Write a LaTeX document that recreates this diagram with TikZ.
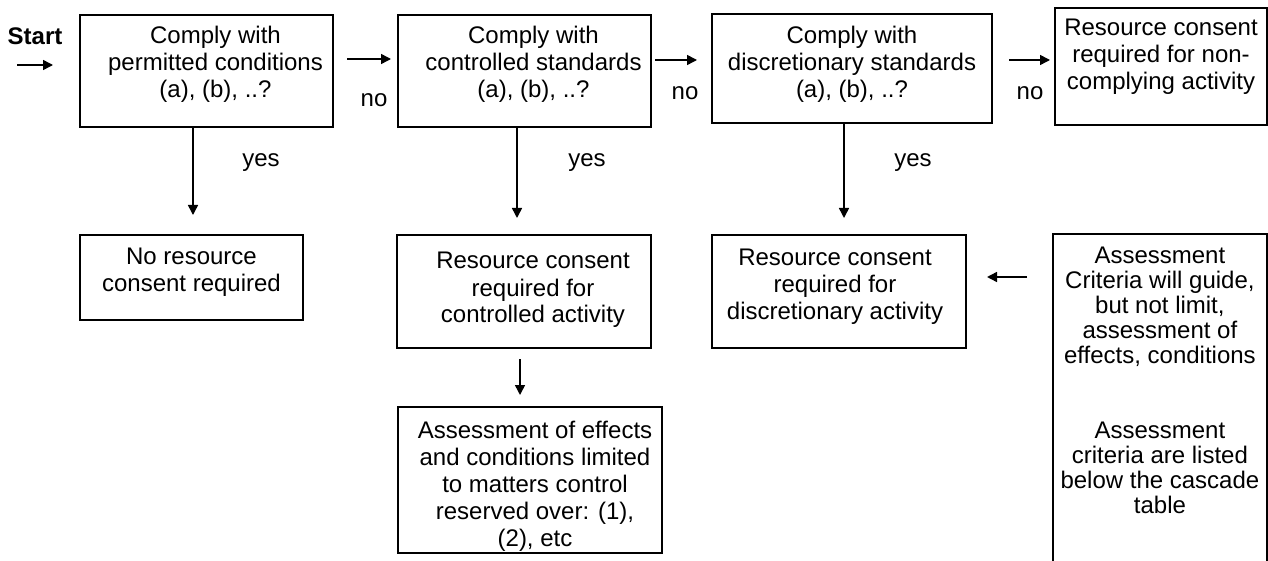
\documentclass[tikz,border=0pt]{standalone}
\usepackage{fontspec}
\setmainfont{Liberation Sans}
\usetikzlibrary{arrows.meta}
\newcommand{\boxtxt}[6]{\parbox[t][#2][t]{#1}{\centering\leftskip=#4 plus 1fil\rightskip=#5 plus 1fil\rule{0pt}{#3}#6}}
\begin{document}
\begin{tikzpicture}[x=0.5pt,y=-0.5pt, font=\fontsize{12}{13.5}\selectfont,
  bx/.style={draw, line width=1pt, inner sep=0pt, anchor=north west},
  arr/.style={line width=0.75pt, -{Triangle[length=5pt,width=5pt]}},
  lbl/.style={anchor=base, inner sep=0pt}]
\useasboundingbox (0,0) rectangle (1268,561);

\node[bx] (b1) at (79,14) {\boxtxt{126.5pt}{56pt}{14.5pt}{9pt}{0pt}{Comply with\\permitted conditions\\(a), (b), ..?}};
\node[bx] (b2) at (397,14) {\boxtxt{126.5pt}{56pt}{14.5pt}{9pt}{0pt}{Comply with\\controlled standards\\(a), (b), ..?}};
\node[bx] (b3) at (711,13) {\boxtxt{140pt}{54.5pt}{15pt}{0pt}{0pt}{Comply with\\discretionary standards\\(a), (b), ..?}};
\node[bx] (b4) at (1054,7) {\boxtxt{106pt}{58.5pt}{14pt}{0pt}{0pt}{Resource consent\\required for non-\\complying activity}};
\node[bx] (nores) at (79,234) {\boxtxt{111.5pt}{42.5pt}{14.5pt}{0pt}{0pt}{No resource\\consent required}};
\node[bx] (ctrl) at (396,234) {\boxtxt{127pt}{56.5pt}{17pt}{9pt}{0pt}{Resource consent\\required for\\controlled activity}};
\node[bx] (disc) at (711,234) {\boxtxt{127pt}{56.5pt}{15pt}{0pt}{4pt}{Resource consent\\required for\\discretionary activity}};
\node[bx] (assess) at (397,406) {\boxtxt{132pt}{73pt}{15.5pt}{5pt}{0pt}{Assessment of effects\\and conditions limited\\to matters control\\reserved over: (1),\\(2), etc}};
\node[anchor=north west, inner sep=0pt] (crit) at (1053,234) {\parbox[t][163.5pt][t]{106.5pt}{\fontsize{12}{12.5}\selectfont\centering\rule{0pt}{14.5pt}Assessment\\Criteria will guide,\\but not limit,\\assessment of\\effects, conditions\\[25pt]Assessment\\criteria are listed\\below the cascade\\table}};
\draw[line width=1pt] (crit.south west) -- (crit.north west) -- (crit.north east) -- (crit.south east);

\node[lbl, font=\fontsize{12}{13.5}\selectfont\bfseries] (start) at (35,45) {Start};
\node[lbl] (no1) at (374,107) {no};
\node[lbl] (no2) at (685,100) {no};
\node[lbl] (no3) at (1030,100) {no};
\node[lbl] (yes1) at (261,167) {yes};
\node[lbl] (yes2) at (587,167) {yes};
\node[lbl] (yes3) at (913,167) {yes};

\coordinate (s0) at (17,65);
\draw[arr, shorten >=13pt] (s0) -- (s0 -| b1.west);
\draw[arr, shorten <=6.5pt, shorten >=3pt] (b1.east |- 0,59) -- (b2.west |- 0,59);
\draw[arr, shorten <=1.5pt, shorten >=7pt] (b2.east |- 0,60) -- (b3.west |- 0,60);
\draw[arr, shorten <=8pt, shorten >=2pt] (b3.east |- 0,60) -- (b4.west |- 0,60);
\draw[arr, shorten >=9.5pt] (b1.south -| 193,0) -- (nores.north -| 193,0);
\draw[arr, shorten >=8pt] (b2.south -| 517,0) -- (ctrl.north -| 517,0);
\draw[arr, shorten >=8pt] (b3.south -| 844,0) -- (disc.north -| 844,0);
\draw[arr, shorten <=5pt, shorten >=5.5pt] (ctrl.south -| 520,0) -- (assess.north -| 520,0);
\draw[arr, shorten <=13pt, shorten >=10pt] (crit.west |- 0,277) -- (disc.east |- 0,277);
\end{tikzpicture}
\end{document}
